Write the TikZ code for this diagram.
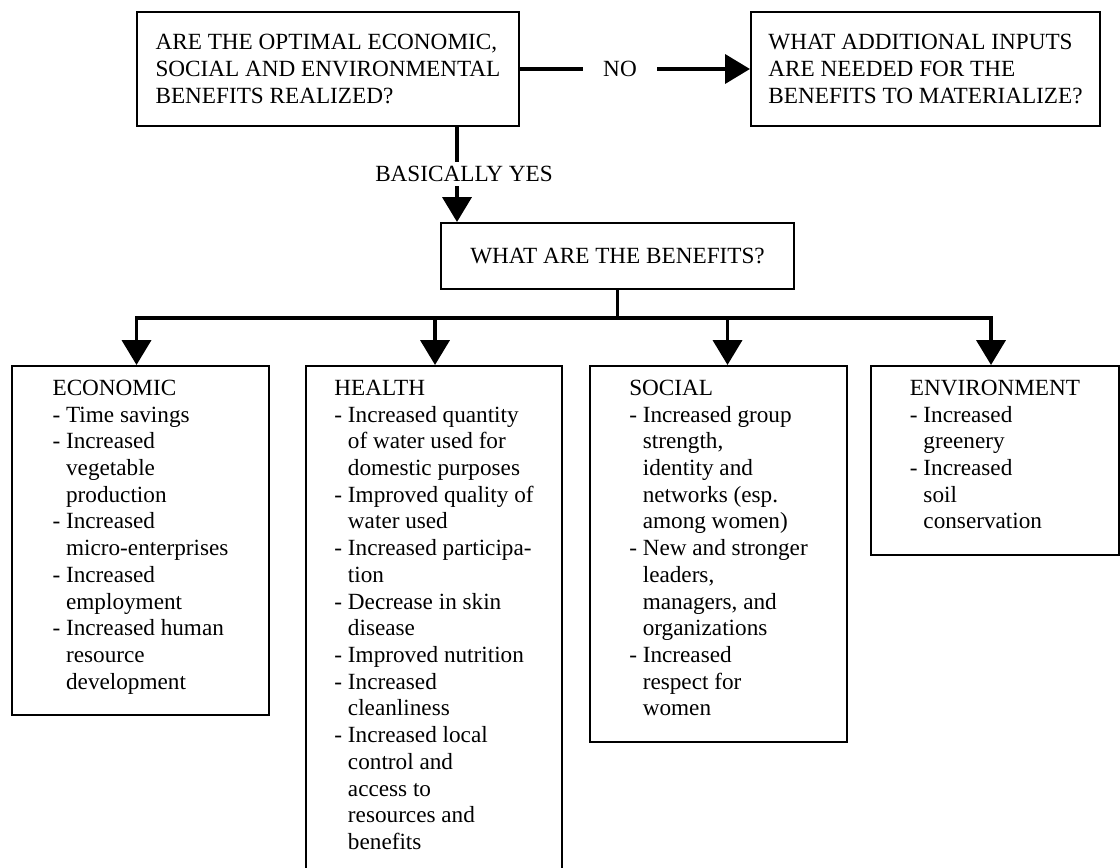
\documentclass[tikz,border=0pt]{standalone}
\usepackage{fontspec}
\setmainfont{Liberation Serif}
\usetikzlibrary{arrows.meta,calc}

\tikzset{
  qbox/.style={draw,line width=1.4pt,align=left,minimum height=2.85cm,inner xsep=0pt,
    font=\fontsize{16.5}{19.5}\selectfont},
  listbox/.style={draw,line width=1.4pt,align=left,anchor=north west,inner ysep=0.35cm,inner xsep=0pt},
  conn/.style={line width=2.8pt},
  tip/.style={conn,-{Triangle[width=0.72cm,length=0.62cm]}},
}
\newcommand{\cont}{\hphantom{-\ }}
\newcommand{\botstrut}{\rule[-0.3cm]{0pt}{0.3cm}}

\begin{document}
\begin{tikzpicture}[x=0.025cm,y=-0.025cm,font=\fontsize{16.5}{19}\selectfont]
  \useasboundingbox (0,0) rectangle (1120,868);
  % the two questions
  \node[qbox,minimum width=9.525cm] (q1) at (328,69)
    {ARE THE OPTIMAL ECONOMIC,\\SOCIAL AND ENVIRONMENTAL\\BENEFITS REALIZED?};
  \node[qbox,minimum width=8.725cm] (q2) at (925.5,69)
    {WHAT ADDITIONAL INPUTS\\ARE NEEDED FOR THE\\BENEFITS TO MATERIALIZE?};
  \node[inner xsep=0.5cm] (no) at (620,69) {NO};
  \draw[conn] (q1.east) -- (no.west);
  \draw[tip] (no.east) -- (q2.west);
  % yes branch
  \node[draw,line width=1.4pt,minimum width=8.825cm,minimum height=1.65cm] (ben)
    at (617.5,256) {WHAT ARE THE BENEFITS?};
  \node[inner ysep=3pt] (yes) at (464,174) {BASICALLY YES};
  \coordinate (ydrop) at (457,0);
  \draw[conn] (q1.south -| ydrop) -- (yes.north -| ydrop);
  \draw[tip] (yes.south -| ydrop) -- (ben.north -| ydrop);
  % benefit lists
  \node[listbox,minimum width=6.425cm] (econ) at (11,365)
    {ECONOMIC\\- Time savings\\- Increased\\\cont vegetable\\\cont production\\
     - Increased\\\cont micro-enterprises\\- Increased\\\cont employment\\
     - Increased human\\\cont resource\\\cont development\botstrut};
  \node[listbox,minimum width=6.4cm] (health) at (305,365)
    {HEALTH\\- Increased quantity\\\cont of water used for\\\cont domestic purposes\\
     - Improved quality of\\\cont water used\\- Increased participa-\\\cont tion\\
     - Decrease in skin\\\cont disease\\- Improved nutrition\\- Increased\\
     \cont cleanliness\\- Increased local\\\cont control and\\\cont access to\\
     \cont resources and\\\cont benefits\botstrut};
  \node[listbox,minimum width=6.425cm] (soc) at (589,365)
    {SOCIAL\\- Increased group\\\cont strength,\\\cont identity and\\
     \cont networks (esp.\\\cont among women)\\- New and stronger\\\cont leaders,\\
     \cont managers, and\\\cont organizations\\- Increased\\\cont respect for\\\cont women\botstrut};
  \node[listbox,minimum width=6.2cm] (env) at (870,365)
    {ENVIRONMENT\\- Increased\\\cont greenery\\- Increased\\\cont soil\\\cont conservation\botstrut};
  % distribution bar
  \coordinate (bar) at (ben.south |- 0,318);
  \draw[conn] (ben.south) -- (bar);
  \foreach \b/\dx in {econ/-4,health/1,soc/9,env/-4}{
    \coordinate (top-\b) at ($(\b.north)+(\dx,0)$);
    \draw[tip] (top-\b |- bar) -- (top-\b);
  }
  \draw[conn,line cap=rect] (top-econ |- bar) -- (top-env |- bar);
\end{tikzpicture}
\end{document}
